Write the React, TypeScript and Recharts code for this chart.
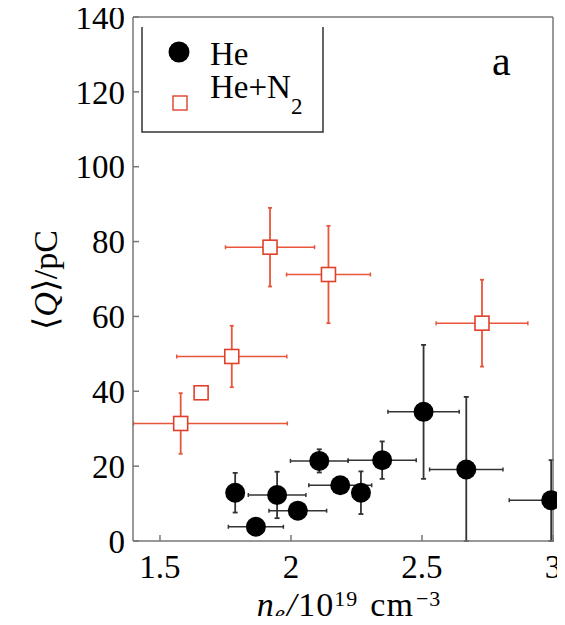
import React from "react";
import {
  ScatterChart, Scatter, XAxis, YAxis, ErrorBar, Label,
} from "recharts";

// He (black circles)
const heDensity = [1.787, 1.866, 1.947, 2.026, 2.108, 2.188, 2.267, 2.348, 2.506, 2.669, 2.993];
const heCharge = [12.9, 3.8, 12.3, 8.1, 21.4, 14.9, 12.9, 21.6, 34.5, 19.1, 10.9];
const heDensityErr: (number | [number, number])[] = [0, 0.105, 0.11, 0.11, 0.11, 0.12, 0, 0.13, 0.136, 0.14, [0.16, 0]];
const heChargeErr: (number | [number, number])[] = [5.3, 0, 6.2, 0, 3.1, 0, 5.7, 5, 17.9, [19.1, 19.4], [10.9, 10.7]];

// He+N2 (red open squares)
const mixDensity = [1.579, 1.657, 1.774, 1.92, 2.143, 2.729];
const mixCharge = [31.4, 39.6, 49.3, 78.5, 71.2, 58.2];
const mixDensityErr: (number | [number, number])[] = [[0.18, 0.407], 0, 0.21, 0.17, 0.16, 0.175];
const mixChargeErr: (number | [number, number])[] = [8.1, 0, 8.2, 10.5, 13, 11.6];

const xTicks = [1.5, 2, 2.5, 3];
const yTicks = [0, 20, 40, 60, 80, 100, 120, 140];

const X_DOMAIN: [number, number] = [1.397, 3];
const Y_DOMAIN: [number, number] = [0, 140];

const FONT = "Liberation Serif, Times New Roman, serif";
const FRAME = "#777";
const RED = "#e0402a";

const heData = heDensity.map((x, i) => ({ x, q: heCharge[i], ex: heDensityErr[i], eq: heChargeErr[i] }));
const mixData = mixDensity.map((x, i) => ({ x, q: mixCharge[i], ex: mixDensityErr[i], eq: mixChargeErr[i] }));

const Dot = (p: any) => <circle cx={p.cx} cy={p.cy} r={10} fill="#000" />;
const Square = (p: any) => (
  <rect x={p.cx - 7} y={p.cy - 7} width={14} height={14} fill="#fff" stroke={RED} strokeWidth={1.6} />
);

const XLabel = (props: any) => {
  const { x, y, width } = props.viewBox;
  return (
    <text x={x + width / 2 + 6} y={y + 75} textAnchor="middle" fontFamily={FONT} fontSize={34} letterSpacing={1} fill="#000">
      <tspan fontStyle="italic">n</tspan>
      <tspan fontStyle="italic" fontSize={23} dy={5}>e</tspan>
      <tspan dy={-5} dx={1} fontStyle="italic">/</tspan>
      <tspan dx={1}>10</tspan>
      <tspan fontSize={22} dy={-10}>19</tspan>
      <tspan dy={10} dx={12}>cm</tspan>
      <tspan fontSize={22} dy={-10} dx={2}>−3</tspan>
    </text>
  );
};

const YLabel = (props: any) => {
  const { y, height } = props.viewBox;
  const cx = 57;
  const cy = y + height / 2 + 1;
  return (
    <text x={cx} y={cy} transform={`rotate(-90 ${cx} ${cy})`} textAnchor="middle" fontFamily={FONT} fontSize={34} fill="#000">
      ⟨<tspan fontStyle="italic">Q</tspan>⟩/pC
    </text>
  );
};

export default function App() {
  return (
    <div style={{ position: "relative", marginTop: -8, marginLeft: -8, width: 565, height: 616 }}>
      <style>{`svg { overflow: visible; }`}</style>
      <ScatterChart width={565} height={616} margin={{ top: 16, right: 11, bottom: 0, left: 0 }}>
        <XAxis
          dataKey="x" type="number" domain={X_DOMAIN} ticks={xTicks} height={75}
          tickSize={-6} tickMargin={20} interval={0}
          tick={{ fill: "#000", fontSize: 33, fontFamily: FONT }}
          axisLine={{ stroke: FRAME, strokeWidth: 1.5 }} tickLine={{ stroke: FRAME, strokeWidth: 1.5 }}
        >
          <Label content={XLabel} />
        </XAxis>
        <XAxis
          xAxisId="top" orientation="top" type="number" domain={X_DOMAIN} ticks={xTicks} height={1}
          tickSize={-6} tick={false} interval={0}
          axisLine={{ stroke: FRAME, strokeWidth: 1.5 }} tickLine={{ stroke: FRAME, strokeWidth: 1.5 }}
        />
        <YAxis
          dataKey="q" type="number" domain={Y_DOMAIN} ticks={yTicks} width={133}
          tickSize={-6} tickMargin={14} interval={0}
          tick={{ fill: "#000", fontSize: 33, fontFamily: FONT }}
          axisLine={{ stroke: FRAME, strokeWidth: 1.5 }} tickLine={{ stroke: FRAME, strokeWidth: 1.5 }}
        >
          <Label content={YLabel} />
        </YAxis>
        <YAxis
          yAxisId="right" orientation="right" type="number" domain={Y_DOMAIN} ticks={yTicks} width={1}
          tickSize={-6} tick={false} interval={0}
          axisLine={{ stroke: FRAME, strokeWidth: 1.5 }} tickLine={{ stroke: FRAME, strokeWidth: 1.5 }}
        />
        <Scatter data={mixData} shape={Square} isAnimationActive={false}>
          <ErrorBar dataKey="ex" direction="x" width={2} stroke="#e8563c" strokeWidth={1.5} />
          <ErrorBar dataKey="eq" direction="y" width={2} stroke="#e8563c" strokeWidth={1.8} />
        </Scatter>
        <Scatter data={heData} shape={Dot} isAnimationActive={false}>
          <ErrorBar dataKey="ex" direction="x" width={2} stroke="#333" strokeWidth={1.5} />
          <ErrorBar dataKey="eq" direction="y" width={2.5} stroke="#333" strokeWidth={1.8} />
        </Scatter>
      </ScatterChart>

      {/* legend box and panel letter */}
      <svg width={565} height={616} style={{ position: "absolute", left: 0, top: 0, pointerEvents: "none" }}>
        <rect x={142} y={27} width={181} height={105} fill="#fff" />
        <polyline points="142,27 142,132 323,132 323,27" fill="none" stroke="#333" strokeWidth={1.5} />
        <circle cx={179} cy={52} r={10.5} fill="#000" />
        <text x={210} y={65} fontFamily={FONT} fontSize={33} fill="#000">He</text>
        <rect x={173} y={96} width={14} height={14} fill="#fff" stroke={RED} strokeWidth={1.4} />
        <text x={210} y={98} fontFamily={FONT} fontSize={33} fill="#000">
          He+N<tspan fontSize={23} dy={16}>2</tspan>
        </text>
        <text x={492} y={75} fontFamily={FONT} fontSize={42} fill="#000">a</text>
      </svg>
    </div>
  );
}
